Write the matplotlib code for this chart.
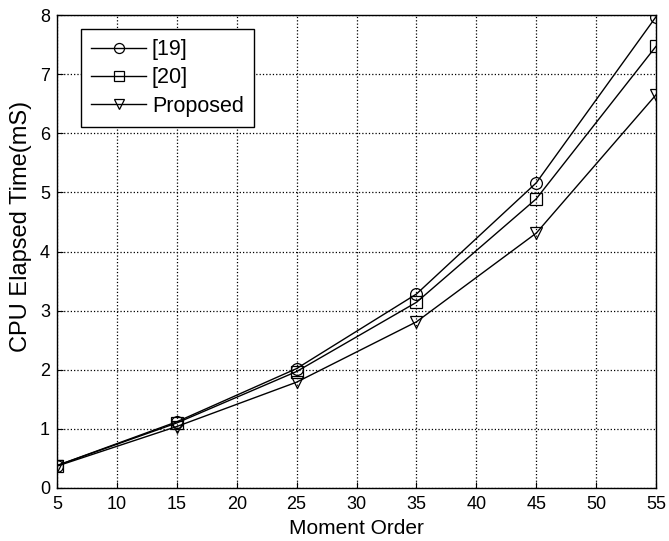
import numpy as np
import matplotlib.pyplot as plt

plt.rcParams['font.family'] = ['Liberation Sans', 'DejaVu Sans']

order = [5, 15, 25, 35, 45, 55]
ref19 = [0.38, 1.12, 2.02, 3.28, 5.16, 7.97]
ref20 = [0.38, 1.10, 1.97, 3.14, 4.89, 7.47]
proposed = [0.37, 1.04, 1.79, 2.81, 4.31, 6.65]

fig = plt.figure(figsize=(6.69, 5.41), dpi=100)
ax = fig.add_axes([57 / 669, 1 - 488 / 541, 599 / 669, 473 / 541])

kw = dict(color='black', lw=1.0, mfc='none', mec='black', ms=8.5, mew=0.9)
ax.plot(order, ref19, marker='o', label='[19]', **kw)
ax.plot(order, ref20, marker='s', label='[20]', **kw)
ax.plot(order, proposed, marker='v', label='Proposed', **kw)

ax.set_xlim(5, 55)
ax.set_ylim(0, 8)
ax.set_xticks(range(5, 56, 5))
ax.set_yticks(range(0, 9))
ax.grid(True, color='black', linestyle=':', linewidth=0.9)
ax.tick_params(direction='in', labelsize=13, length=4, color='black')
ax.tick_params(axis='x', pad=6)
ax.tick_params(axis='y', pad=5)
for s in ax.spines.values():
    s.set_linewidth(1.0)
ax.set_xlabel('Moment Order', fontsize=15, labelpad=4)
ax.set_ylabel('CPU Elapsed Time(mS)', fontsize=17)
ax.yaxis.set_label_coords(-25 / 599, 0.552)

leg = ax.legend(loc='upper left', bbox_to_anchor=(24 / 599, 459 / 473), fontsize=15.5,
                fancybox=False, framealpha=1, edgecolor='black', borderaxespad=0,
                handlelength=2.56, handletextpad=0.25, borderpad=0.48, labelspacing=0.33,
                markerscale=0.85)
leg.get_frame().set_linewidth(1.0)

fig.savefig('out.png', dpi=100)
